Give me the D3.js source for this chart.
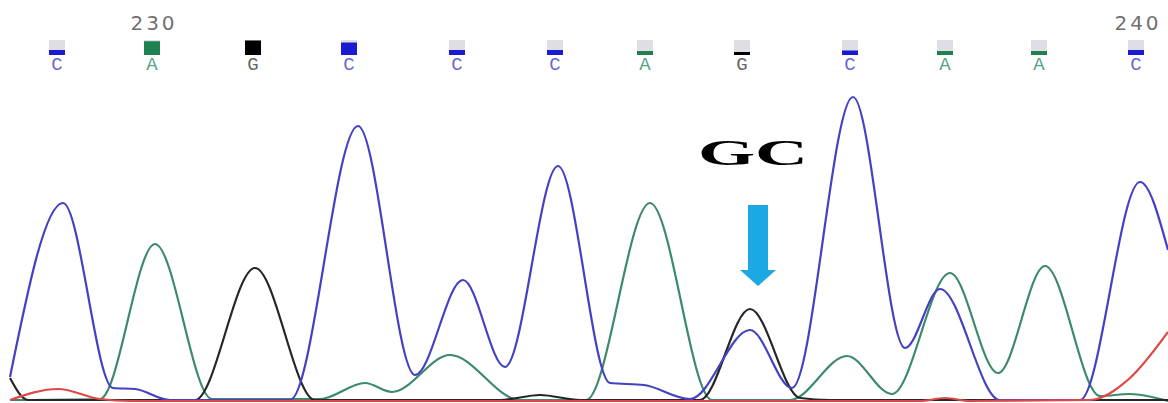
<!DOCTYPE html>
<html>
<head>
<meta charset="utf-8">
<script src="https://cdn.jsdelivr.net/npm/d3@7"></script>
<style>
  html, body { margin: 0; padding: 0; background: #fff; }
  svg { display: block; }
</style>
</head>
<body>
<svg id="chart" width="1168" height="403"></svg>
<script>
"use strict";

// Base calls: scan position, called base, quality
var call_scans = [4028.5, 4076, 4126.5, 4174.5, 4228.5, 4277.5, 4322.5, 4371, 4425, 4472.5, 4519.5, 4568];
var call_bases = ['C', 'A', 'G', 'C', 'C', 'C', 'A', 'G', 'C', 'A', 'A', 'C'];
var call_quals = [20, 55, 58, 50, 20, 20, 16, 12, 18, 16, 16, 20];

// Position ruler
var ruler_positions = [230, 240];
var ruler_index = [1, 11];

// Trace samples [scan, signal]
var trace_c = [
  [4005, 96], [4031.5, 792], [4056.5, 52], [4067.5, 48], [4085, 4], [4145, 4],
  [4179, 1100], [4207.5, 104], [4231.5, 484], [4252.5, 136], [4279, 940],
  [4305, 72], [4322, 64], [4345, 8], [4375, 284], [4396, 52], [4426.5, 1216],
  [4452.5, 212], [4470, 448], [4500, 4], [4540, 4], [4570, 876], [4584, 604]
];
var trace_a = [
  [4005, 4], [4050, 8], [4077.5, 628], [4106, 8], [4160, 8], [4182.5, 72],
  [4196, 36], [4225, 184], [4260, 4], [4293, 4], [4325, 792], [4356, 4],
  [4395, 4], [4423.5, 180], [4446, 28], [4475, 512], [4499, 112],
  [4522.5, 540], [4550, 20], [4565, 28], [4584, 0]
];
var trace_g = [
  [4005, 92], [4014, 4], [4097.5, 4], [4127.5, 532], [4157.5, 4], [4250, 4],
  [4270, 24], [4290, 4], [4350, 4], [4375, 368], [4400, 12], [4415, 4], [4584, 4]
];
var trace_t = [
  [4005, 4], [4029, 48], [4050, 8], [4065, 0], [4460, 0], [4472.5, 12],
  [4485, 0], [4545, 4], [4565, 92], [4584, 276]
];

var trace_colors = { A: '#3d8a6a', C: '#4242c2', G: '#262626', T: '#e04848' };
var qual_colors = { A: '#1f8050', C: '#1a1ad0', G: '#000000', T: '#d02020' };
var letter_colors = { A: '#55a585', C: '#6a6ad4', G: '#666666', T: '#e06060' };

var svg = d3.select('#chart');
var x = d3.scaleLinear().domain([4000, 4584]).range([0, 1168]);
var y = d3.scaleLinear().domain([0, 1200]).range([401, 101]);
var q = d3.scaleLinear().domain([0, 60]).range([0, 15]);

var line = d3.line()
  .x(function(d) { return x(d[0]); })
  .y(function(d) { return y(d[1]); })
  .curve(d3.curveMonotoneX);

// Traces, red drawn last so the baseline shows red
[[trace_a, 'A'], [trace_g, 'G'], [trace_c, 'C'], [trace_t, 'T']].forEach(function(t) {
  svg.append('path')
    .datum(t[0])
    .attr('d', line)
    .attr('fill', 'none')
    .attr('stroke', trace_colors[t[1]])
    .attr('stroke-width', 2.2)
    .attr('stroke-linejoin', 'round');
});

// Quality boxes and base letters
var calls = svg.append('g').selectAll('g')
  .data(call_scans.map(function(s, i) { return { scan: s, base: call_bases[i], qual: call_quals[i] }; }))
  .join('g')
  .attr('transform', function(d) { return 'translate(' + x(d.scan) + ',0)'; });

calls.append('rect')
  .attr('x', -8).attr('y', 40).attr('width', 16).attr('height', 15)
  .attr('fill', '#dedee4');
calls.append('rect')
  .attr('x', -8).attr('y', function(d) { return 55 - q(d.qual); })
  .attr('width', 16).attr('height', function(d) { return q(d.qual); })
  .attr('fill', function(d) { return qual_colors[d.base]; });
calls.append('text')
  .attr('y', 70)
  .attr('text-anchor', 'middle')
  .attr('font-family', 'Liberation Mono, monospace')
  .attr('font-size', 19)
  .attr('fill', function(d) { return letter_colors[d.base]; })
  .text(function(d) { return d.base; });

// Ruler numbers
svg.append('g').selectAll('text')
  .data(ruler_positions)
  .join('text')
  .attr('x', function(d, i) { return x(call_scans[ruler_index[i]]) + 2; })
  .attr('y', 30)
  .attr('text-anchor', 'middle')
  .attr('font-family', 'DejaVu Sans, sans-serif')
  .attr('font-size', 20)
  .attr('letter-spacing', 3)
  .attr('fill', '#707070')
  .text(function(d) { return d; });

// Annotation over the heterozygous G/C call
var ax = x(call_scans[7]) + 16;
svg.append('text')
  .attr('x', ax - 60).attr('y', 165)
  .attr('font-family', 'Liberation Serif, serif')
  .attr('font-weight', 'bold')
  .attr('font-size', 35)
  .attr('textLength', 110)
  .attr('lengthAdjust', 'spacingAndGlyphs')
  .attr('fill', '#000')
  .text('GC');
svg.append('path')
  .attr('d', 'M' + (ax - 10) + ',205 h20 v65 h8 l-18,16 l-18,-16 h8 z')
  .attr('fill', '#1ca8e2');
</script>
</body>
</html>
